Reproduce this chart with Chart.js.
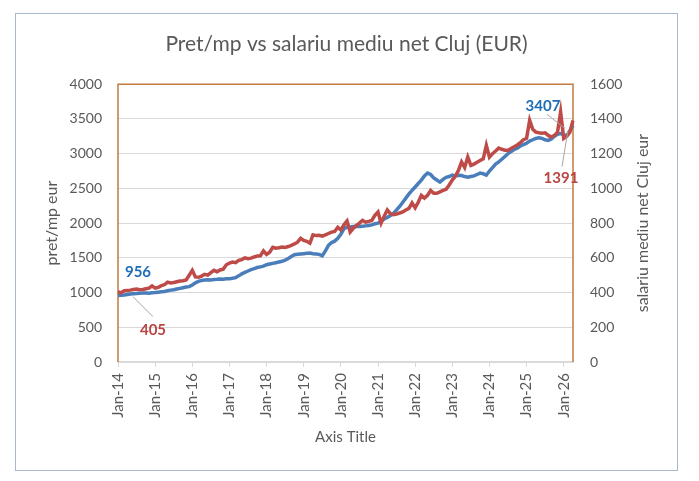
<!DOCTYPE html>
<html>
<head>
<meta charset="utf-8">
<script src="https://cdn.jsdelivr.net/npm/chart.js@4.4.1/dist/chart.umd.min.js"></script>
<style>
  html, body { margin: 0; padding: 0; background: #fff; }
  .frame { position: absolute; left: 15px; top: 13px; width: 663px; height: 458px; box-sizing: border-box; border: 1px solid #aab8cc; background: #fff; }
  canvas { display: block; }
</style>
</head>
<body>
<div class="frame"><canvas id="chart" width="661" height="456"></canvas></div>
<script>
// monthly series, Jan-14 .. Apr-26
const monthNames = ['Jan', 'Feb', 'Mar', 'Apr', 'May', 'Jun', 'Jul', 'Aug', 'Sep', 'Oct', 'Nov', 'Dec'];
const firstYear = 14;

// pret/mp (EUR) - left axis
const priceSqm = [
  956, 960, 965, 972, 978, 983, 987, 990, 992, 995, 990, 998,
  1000, 1005, 1010, 1015, 1025, 1035, 1040, 1050, 1060, 1070, 1080, 1085,
  1110, 1140, 1160, 1175, 1180, 1185, 1182, 1188, 1190, 1195, 1192, 1198,
  1200, 1205, 1215, 1240, 1270, 1290, 1310, 1330, 1345, 1360, 1370, 1380,
  1400, 1410, 1420, 1430, 1440, 1450, 1465, 1490, 1520, 1545, 1550, 1555,
  1560, 1565, 1570, 1560, 1555, 1550, 1530, 1600, 1680, 1720, 1740, 1780,
  1840, 1920, 1940, 1945, 1950, 1955, 1950, 1955, 1960, 1965, 1975, 1990,
  2000, 2030, 2060, 2080, 2110, 2140, 2190, 2240, 2300, 2360, 2420, 2470,
  2520, 2570, 2620, 2680, 2720, 2700, 2650, 2620, 2590, 2630, 2660, 2670,
  2690, 2680, 2690, 2685, 2670, 2660, 2670, 2680, 2700, 2720, 2710, 2690,
  2750, 2800, 2850, 2880, 2920, 2960, 3000, 3030, 3060, 3080, 3110, 3130,
  3150, 3180, 3200, 3220, 3230, 3220, 3200, 3190, 3210, 3250, 3280, 3290,
  3270, 3260, 3330, 3407
];

// salariu mediu net Cluj (EUR) - right axis
const salaryNet = [
  405, 398, 410, 412, 414, 418, 420, 416, 418, 422, 425, 438,
  425, 430, 440, 445, 460, 455, 458, 462, 466, 468, 472, 500,
  528, 490, 488, 495, 505, 500, 515, 528, 520, 530, 535, 560,
  570, 576, 572, 585, 590, 600, 595, 598, 605, 610, 612, 640,
  620, 632, 660, 655, 658, 662, 660, 665, 672, 680, 690, 712,
  700, 695, 684, 732, 728, 730, 725, 732, 740, 748, 752, 776,
  760, 790, 812, 748, 770, 785, 800, 816, 805, 810, 815, 845,
  864, 800, 840, 876, 855, 848, 852, 858, 864, 875, 885, 916,
  888, 920, 960, 944, 960, 988, 972, 972, 980, 988, 995, 1020,
  1048, 1070, 1104, 1152, 1120, 1180, 1132, 1140, 1150, 1160, 1170, 1248,
  1180, 1200, 1215, 1232, 1225, 1220, 1220, 1230, 1240, 1250, 1264, 1280,
  1288, 1392, 1340, 1324, 1320, 1318, 1320, 1305, 1296, 1305, 1324, 1440,
  1288, 1300, 1324, 1391
];

const months = [];
for (let i = 0; i < priceSqm.length; i++) {
  months.push(monthNames[i % 12] + '-' + (firstYear + Math.floor(i / 12)));
}

const textGray = '#595959';
const gridGray = '#d9d9d9';
const blue = '#4a7ebb';
const red = '#be4b48';
const fontFamily = 'Lato, "Open Sans", sans-serif';

// orange frame round the plot area
const plotFrame = {
  id: 'plotFrame',
  beforeDatasetsDraw(chart) {
    const { ctx, chartArea: a } = chart;
    ctx.save();
    ctx.strokeStyle = '#c27b3e';
    ctx.lineWidth = 1.5;
    ctx.beginPath();
    ctx.moveTo(a.left, a.bottom);
    ctx.lineTo(a.left, a.top);
    ctx.lineTo(a.right, a.top);
    ctx.lineTo(a.right, a.bottom);
    ctx.stroke();
    ctx.restore();
  }
};

// right axis title reads bottom to top, like the left one
const rightTitle = {
  id: 'rightTitle',
  afterDraw(chart) {
    const { ctx, chartArea: a, scales } = chart;
    ctx.save();
    ctx.translate(scales.y1.right - 34, (a.top + a.bottom) / 2);
    ctx.rotate(-Math.PI / 2);
    ctx.font = '16px ' + fontFamily;
    ctx.fillStyle = textGray;
    ctx.textAlign = 'center';
    ctx.textBaseline = 'middle';
    ctx.fillText('salariu mediu net Cluj eur', 0, 0);
    ctx.restore();
  }
};

// first / last value labels with leader lines
const endLabels = {
  id: 'endLabels',
  afterDatasetsDraw(chart) {
    const { ctx } = chart;
    const last = priceSqm.length - 1;
    const items = [
      { ds: 0, i: 0, text: priceSqm[0], color: '#1f6db5', dx: 20, dy: -23 },
      { ds: 1, i: 0, text: salaryNet[0], color: '#b94542', dx: 35, dy: 38, line: [35, 25, 15, 5] },
      { ds: 0, i: last, text: priceSqm[last], color: '#1f6db5', dx: -30, dy: -19, line: [-26, -11, -8, 3] },
      { ds: 1, i: last, text: salaryNet[last], color: '#b94542', dx: -12, dy: 58, line: [-11, 46, -5, 10] }
    ];
    ctx.save();
    items.forEach((it) => {
      const pt = chart.getDatasetMeta(it.ds).data[it.i];
      if (it.line) {
        ctx.strokeStyle = '#a6a6a6';
        ctx.lineWidth = 1;
        ctx.beginPath();
        ctx.moveTo(pt.x + it.line[0], pt.y + it.line[1]);
        ctx.lineTo(pt.x + it.line[2], pt.y + it.line[3]);
        ctx.stroke();
      }
      ctx.font = 'bold 15px ' + fontFamily;
      ctx.fillStyle = it.color;
      ctx.textAlign = 'center';
      ctx.textBaseline = 'middle';
      ctx.fillText(String(it.text), pt.x + it.dx, pt.y + it.dy);
    });
    ctx.restore();
  }
};

const plainNumber = (value) => String(value);

const ctx = document.getElementById('chart').getContext('2d');

new Chart(ctx, {
  type: 'line',
  data: {
    labels: months,
    datasets: [
      {
        label: 'pret/mp eur',
        data: priceSqm,
        yAxisID: 'y',
        borderColor: blue,
        borderWidth: 3.5,
        pointRadius: 0,
        tension: 0,
        order: 2
      },
      {
        label: 'salariu mediu net Cluj eur',
        data: salaryNet,
        yAxisID: 'y1',
        borderColor: red,
        borderWidth: 3.5,
        pointRadius: 0,
        tension: 0,
        order: 1
      }
    ]
  },
  options: {
    responsive: false,
    animation: false,
    layout: { padding: 0 },
    plugins: {
      legend: { display: false },
      tooltip: { enabled: false },
      title: {
        display: true,
        text: 'Pret/mp vs salariu mediu net Cluj (EUR)',
        color: textGray,
        font: { family: fontFamily, size: 21, weight: 'normal' },
        padding: { top: 18, bottom: 27 }
      }
    },
    scales: {
      x: {
        type: 'category',
        grid: { display: true, drawOnChartArea: false, drawTicks: true, tickLength: 5, color: gridGray },
        border: { color: gridGray, width: 1.5 },
        ticks: {
          autoSkip: false,
          maxRotation: 90,
          minRotation: 90,
          padding: 6,
          color: textGray,
          font: { family: fontFamily, size: 15 },
          callback: (value, index) => (index % 12 === 0 ? months[index] : null)
        },
        title: {
          display: true,
          text: 'Axis Title',
          color: textGray,
          font: { family: fontFamily, size: 15 },
          padding: { bottom: 24 }
        },
        afterFit: (s) => { s.height = 108; }
      },
      y: {
        position: 'left',
        min: 0,
        max: 4000,
        ticks: { stepSize: 500, padding: 16, color: textGray, font: { family: fontFamily, size: 14 }, callback: plainNumber },
        grid: { color: gridGray, drawTicks: false },
        border: { display: false },
        title: {
          display: true,
          text: 'pret/mp eur',
          color: textGray,
          font: { family: fontFamily, size: 16 },
          padding: { top: 26 }
        },
        afterFit: (s) => { s.width = 102; }
      },
      y1: {
        position: 'right',
        min: 0,
        max: 1600,
        ticks: { stepSize: 200, padding: 17, color: textGray, font: { family: fontFamily, size: 14 }, callback: plainNumber },
        grid: { drawOnChartArea: false, drawTicks: false },
        border: { display: false },
        afterFit: (s) => { s.width = 104; }
      }
    }
  },
  plugins: [plotFrame, rightTitle, endLabels]
});
</script>
</body>
</html>
